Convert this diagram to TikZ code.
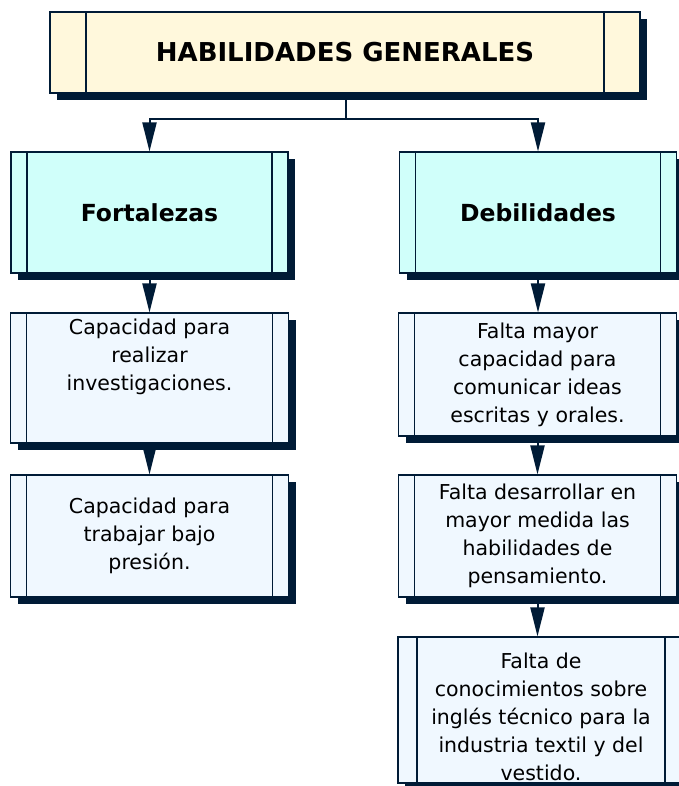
\documentclass[tikz,border=0pt]{standalone}
\usepackage{fontspec}
\setmainfont{DejaVu Sans}
\usetikzlibrary{arrows.meta, shadows}
\definecolor{mapnavy}{RGB}{0,27,54}
\definecolor{mapcream}{RGB}{255,248,220}
\definecolor{mapcyan}{RGB}{208,255,250}
\definecolor{mapice}{RGB}{240,248,255}
\tikzset{
  %% ---- boxes ----
  proc/.style    = {rectangle, draw=mapnavy, line width=1.1pt,
                    inner sep=0pt, align=center,
                    drop shadow={shadow xshift=7pt, shadow yshift=-7pt,
                                 fill=mapnavy, opacity=1},
                    path picture={
                      \draw[mapnavy, line width=1.1pt]
                        ([xshift=#1]path picture bounding box.north west)
                          -- ([xshift=#1]path picture bounding box.south west)
                        ([xshift=-#1]path picture bounding box.north east)
                          -- ([xshift=-#1]path picture bounding box.south east);
                    }},
  proc/.default  = 16pt,
  titlebox/.style= {proc=36pt, fill=mapcream,
                    font=\bfseries\fontsize{26}{30}\selectfont},
  headbox/.style = {proc, fill=mapcyan, minimum width=277pt,
                    minimum height=121pt,
                    font=\bfseries\fontsize{23.5}{28}\selectfont},
  leafbox/.style = {proc=#1, fill=mapice, minimum width=278pt,
                    font=\fontsize{20.5}{28}\selectfont},
  leafbox/.default = 16pt,
  %% ---- arrows ----
  link/.style    = {line width=2pt, draw=mapnavy},
  arr/.style     = {-{Triangle[length=29pt, width=14pt]},
                    line width=2pt, draw=mapnavy},
}

\begin{document}
\begin{tikzpicture}[x=1pt, y=-1pt]
\useasboundingbox (0,0) rectangle (678,786);

%% ── Top ─────────────────────────────────────────────────────────────
\node[titlebox, minimum width=590pt, minimum height=81pt]
  (top) at (345, 52.5) {HABILIDADES GENERALES};

%% ── Row 1 ───────────────────────────────────────────────────────────
\node[headbox] (fort) at (149.5, 212.5) {Fortalezas};
\node[headbox] (deb)  at (538, 212.5)   {Debilidades};

%% ── Left column ─────────────────────────────────────────────────────
\node[leafbox, minimum height=130pt, text depth=46pt]
  (f1) at (149.5, 378) {Capacidad para\\realizar\\investigaciones.};
\node[leafbox, minimum height=122pt]
  (f2) at (149.5, 536) {Capacidad para\\trabajar bajo\\presión.};

%% ── Right column ────────────────────────────────────────────────────
\node[leafbox, minimum height=123pt]
  (d1) at (537.5, 374.5) {Falta mayor\\capacidad para\\comunicar ideas\\escritas y orales.};
\node[leafbox, minimum height=122pt]
  (d2) at (537.5, 536) {Falta desarrollar en\\mayor medida las\\habilidades de\\pensamiento.};
\node[leafbox=19pt, minimum width=286pt, minimum height=146pt, text height=141pt]
  (d3) at (541, 710) {Falta de\\conocimientos sobre\\inglés técnico para la\\industria textil y del\\vestido.};

%% ── Connectors ──────────────────────────────────────────────────────
\coordinate (split) at (346, 119);
\draw[link] (top.south -| split) -- (split);
\draw[arr] (split) -| (fort.north);
\draw[arr] (split) -| (deb.north);

\draw[arr] (fort.south) -- (fort.south |- f1.north);
\draw[arr] (f1.south)   -- (f1.south |- f2.north);
\draw[arr] (deb.south)  -- (deb.south |- d1.north);
\draw[arr] (d1.south)   -- (d1.south |- d2.north);
\draw[arr] (d2.south)   -- (d2.south |- d3.north);

\end{tikzpicture}
\end{document}
